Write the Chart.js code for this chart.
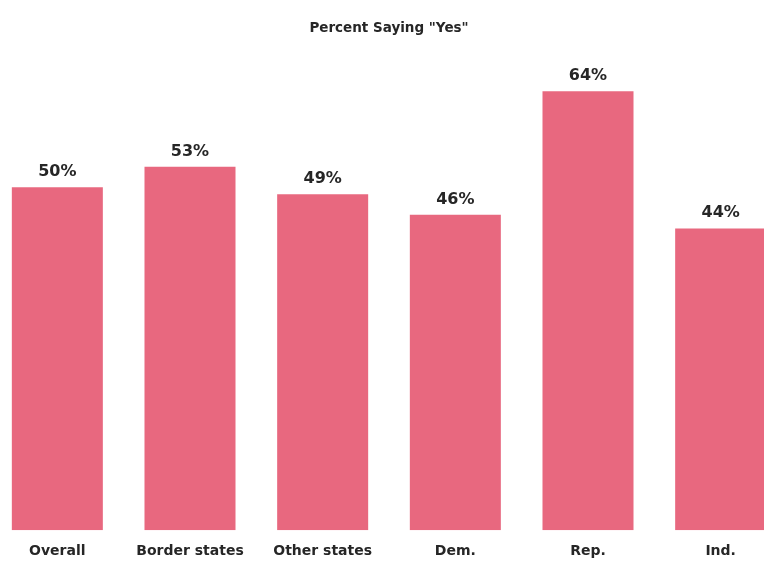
<!DOCTYPE html>
<html>
<head>
<meta charset="utf-8">
<script src="https://cdn.jsdelivr.net/npm/chart.js@4/dist/chart.umd.min.js"></script>
<style>
    html, body { margin: 0; padding: 0; background: #fff; overflow: hidden; }
    #wrap { position: absolute; left: -9px; top: 0; width: 796px; height: 573px; }
</style>
</head>
<body>
<div id="wrap"><canvas id="yesChart"></canvas></div>
<script>
// Survey groups and share answering "yes"
const groups = ['Overall', 'Border states', 'Other states', 'Dem.', 'Rep.', 'Ind.'];
const yesPercent = [50, 53, 49, 46, 64, 44];

const textColor = '#262626';
const barColor = '#e8687f';

// Prints "NN%" above each bar
const valueLabels = {
    id: 'valueLabels',
    afterDatasetsDraw(chart) {
        const ctx = chart.ctx;
        const meta = chart.getDatasetMeta(0);
        ctx.save();
        ctx.fillStyle = textColor;
        ctx.font = 'bold 16px "DejaVu Sans"';
        ctx.textAlign = 'center';
        ctx.textBaseline = 'alphabetic';
        meta.data.forEach(function(bar, i) {
            ctx.fillText(yesPercent[i] + '%', bar.x, bar.y - 11);
        });
        ctx.restore();
    }
};

const ctx = document.getElementById('yesChart').getContext('2d');
new Chart(ctx, {
    type: 'bar',
    data: {
        labels: groups,
        datasets: [{
            data: yesPercent,
            backgroundColor: barColor,
            borderWidth: 0,
            categoryPercentage: 1,
            barPercentage: 0.686
        }]
    },
    options: {
        responsive: true,
        maintainAspectRatio: false,
        animation: false,
        layout: {
            padding: { top: 0, bottom: 0, left: 0, right: 0 }
        },
        plugins: {
            legend: { display: false },
            tooltip: { enabled: false },
            title: {
                display: true,
                text: 'Percent Saying "Yes"',
                color: textColor,
                font: { family: 'DejaVu Sans', weight: 'bold', size: 13.5 },
                padding: { top: 20, bottom: 14 }
            }
        },
        scales: {
            y: {
                display: false,
                min: 0,
                max: 70
            },
            x: {
                grid: { display: false, drawTicks: false },
                border: { display: false },
                ticks: {
                    color: textColor,
                    padding: 13,
                    font: { family: 'DejaVu Sans', weight: 'bold', size: 14 }
                }
            }
        }
    },
    plugins: [valueLabels]
});
</script>
</body>
</html>
